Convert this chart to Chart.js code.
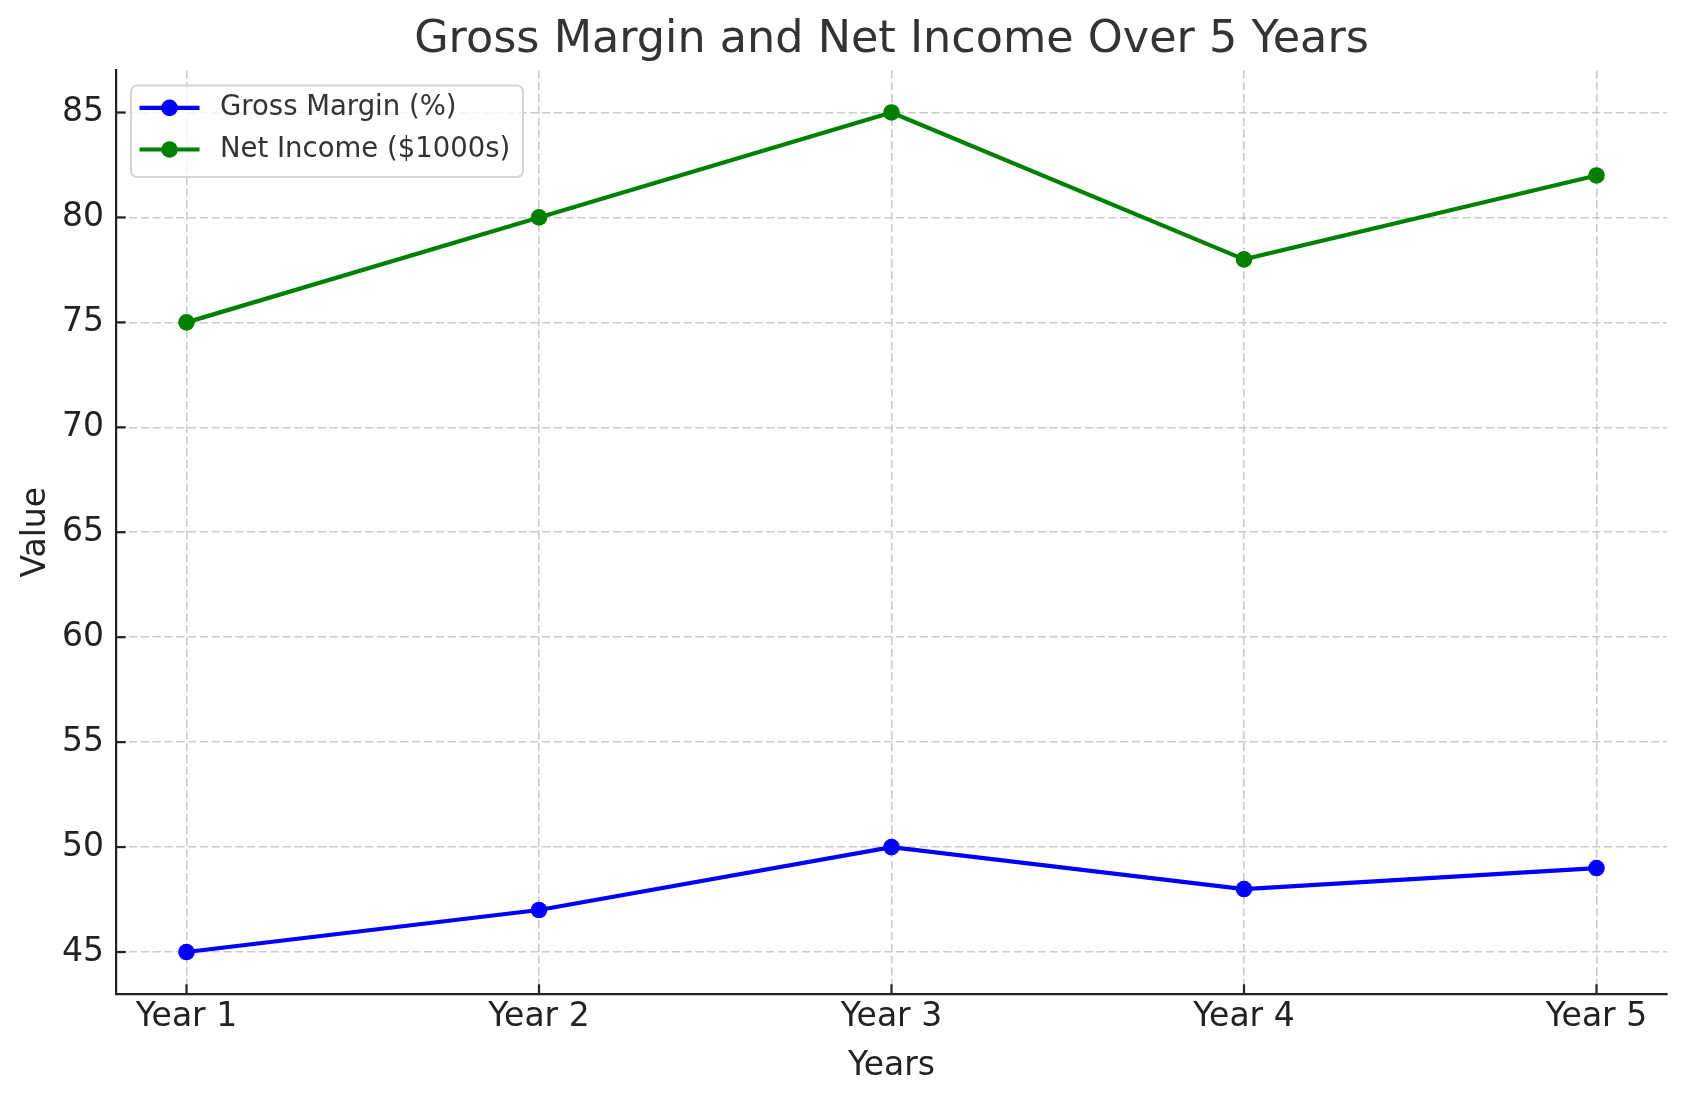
<!DOCTYPE html>
<html><head><meta charset="utf-8">
<script src="https://cdn.jsdelivr.net/npm/chart.js@4.4.1/dist/chart.umd.min.js"></script>
<style>html,body{margin:0;padding:0;background:#fff;}#wrap{width:1686px;height:1101px;}</style>
</head><body><div id="wrap"><canvas id="c" width="1686" height="1101"></canvas></div>
<script>
const categories = ['Year 1', 'Year 2', 'Year 3', 'Year 4', 'Year 5'];
const grossMargin = [45, 47, 50, 48, 49];
const netIncome = [75, 80, 85, 78, 82];
const yTickValues = [45, 50, 55, 60, 65, 70, 75, 80, 85];
const seriesNames = ['Gross Margin (%)', 'Net Income ($1000s)'];
const seriesColors = ['#0000ff', '#008000'];
const chartTitle = 'Gross Margin and Net Income Over 5 Years';
const xAxisTitle = 'Years';
const yAxisTitle = 'Value';

const FONT = "'DejaVu Sans', 'Liberation Sans', sans-serif";

const toPoints = arr => arr.map((v, i) => ({x: i, y: v}));

const innerTicks = {
  id: 'innerTicks',
  beforeDatasetsDraw(chart) {
    const {ctx, chartArea, scales} = chart;
    ctx.save();
    ctx.strokeStyle = '#222';
    ctx.lineWidth = 2.2;
    const len = 9.7;
    scales.y.ticks.forEach(t => {
      const py = scales.y.getPixelForValue(t.value);
      ctx.beginPath(); ctx.moveTo(chartArea.left, py); ctx.lineTo(chartArea.left + len, py); ctx.stroke();
    });
    scales.x.ticks.forEach(t => {
      const px = scales.x.getPixelForValue(t.value);
      ctx.beginPath(); ctx.moveTo(px, chartArea.bottom); ctx.lineTo(px, chartArea.bottom - len); ctx.stroke();
    });
    ctx.restore();
  }
};

const innerLegend = {
  id: 'innerLegend',
  afterDatasetsDraw(chart) {
    const {ctx, chartArea} = chart;
    const bx = chartArea.left + 15, by = chartArea.top + 15, bw = 392, bh = 91.5, r = 6;
    ctx.save();
    ctx.beginPath();
    ctx.roundRect(bx, by, bw, bh, r);
    ctx.fillStyle = 'rgba(255,255,255,0.8)';
    ctx.fill();
    ctx.lineWidth = 2;
    ctx.strokeStyle = '#d4d4d4';
    ctx.stroke();
    chart.data.datasets.forEach((ds, i) => {
      const ry = by + 22.4 + i * 41.6;
      ctx.strokeStyle = ds.borderColor;
      ctx.lineWidth = 4.2;
      ctx.beginPath(); ctx.moveTo(bx + 8.5, ry); ctx.lineTo(bx + 68.5, ry); ctx.stroke();
      ctx.fillStyle = ds.borderColor;
      ctx.beginPath(); ctx.arc(bx + 38.5, ry, 8.3, 0, Math.PI * 2); ctx.fill();
      ctx.fillStyle = '#333';
      ctx.font = '27.5px ' + FONT;
      ctx.textBaseline = 'middle';
      ctx.textAlign = 'left';
      ctx.fillText(ds.label, bx + 89, ry);
    });
    ctx.restore();
  }
};

const gridCommon = {
  color: '#cbcbcb',
  lineWidth: 1.6,
  drawTicks: false
};

new Chart(document.getElementById('c'), {
  type: 'line',
  data: {
    datasets: [grossMargin, netIncome].map((arr, i) => ({
      label: seriesNames[i],
      data: toPoints(arr),
      borderColor: seriesColors[i],
      backgroundColor: seriesColors[i],
      pointBackgroundColor: seriesColors[i],
      pointBorderWidth: 0,
      pointRadius: 8.3,
      borderWidth: 4.2,
      tension: 0,
      fill: false
    }))
  },
  options: {
    responsive: false,
    devicePixelRatio: 1,
    animation: false,
    events: [],
    layout: {padding: {top: 0, left: 0, right: 19, bottom: 0}},
    plugins: {
      legend: {display: false},
      tooltip: {enabled: false},
      title: {
        display: true,
        fullSize: false,
        text: chartTitle,
        color: '#333',
        font: {family: FONT, size: 44.5, weight: 'normal'},
        padding: {top: 13.5, bottom: 3.6}
      }
    },
    scales: {
      x: {
        type: 'linear',
        min: -0.2,
        max: 4.2,
        afterBuildTicks: s => { s.ticks = categories.map((_, i) => ({value: i})); },
        afterFit: s => { s.height = 107; },
        grid: gridCommon,
        border: {display: true, color: '#222', width: 2.2, dash: [8.2, 3.6]},
        ticks: {
          color: '#222',
          font: {family: FONT, size: 33},
          padding: 3.8,
          maxRotation: 0,
          autoSkip: false,
          callback: v => categories[v] !== undefined ? categories[v] : ''
        },
        title: {
          display: true,
          text: xAxisTitle,
          color: '#222',
          font: {family: FONT, size: 33},
          padding: {top: 0, bottom: 15.2}
        }
      },
      y: {
        type: 'linear',
        min: 43,
        max: 87,
        afterBuildTicks: s => { s.ticks = yTickValues.map(v => ({value: v})); },
        afterFit: s => { s.width = 116; },
        grid: gridCommon,
        border: {display: true, color: '#222', width: 2.2, dash: [8.2, 3.6]},
        ticks: {
          color: '#222',
          font: {family: FONT, size: 33},
          padding: 12,
          autoSkip: false
        },
        title: {
          display: true,
          text: yAxisTitle,
          color: '#222',
          font: {family: FONT, size: 33},
          padding: {top: 16.7, bottom: 0}
        }
      }
    }
  },
  plugins: [innerTicks, innerLegend]
});
</script>
</body></html>
